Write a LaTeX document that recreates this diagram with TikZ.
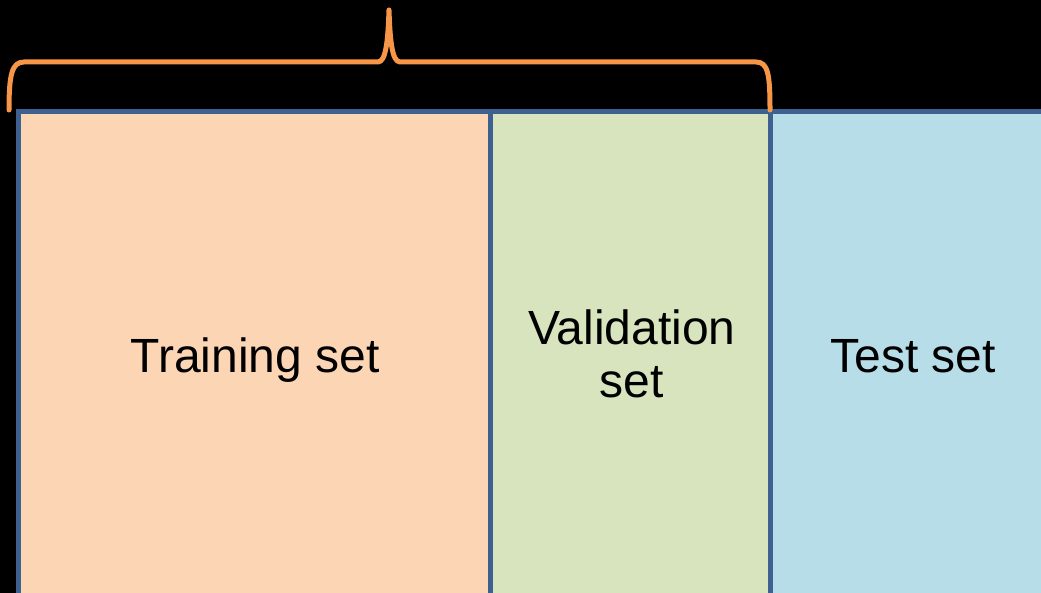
\documentclass[tikz,border=0pt]{standalone}
\usepackage{fontspec}
\setmainfont{Liberation Sans}
\definecolor{trainfill}{HTML}{FCD5B5}
\definecolor{valfill}{HTML}{D7E4BD}
\definecolor{testfill}{HTML}{B7DEE8}
\definecolor{edgeblue}{RGB}{62,96,145}
\definecolor{braceorange}{HTML}{F79646}
\begin{document}
\begin{tikzpicture}[x=1pt,y=-1pt,
  setedge/.style={draw=edgeblue,line width=5pt},
  setlabel/.style={font=\fontsize{48}{53}\selectfont,text=black,align=center},
  bracepath/.style={draw=braceorange,line width=5pt,line cap=round,line join=round}]
\fill[black] (0,0) rectangle (1041,593);
\useasboundingbox (0,0) rectangle (1041,593);
\clip (0,0) rectangle (1041,593);
\foreach \xa/\xb/\col in {18/490/trainfill,490/770/valfill,770/1056/testfill}{
  \draw[setedge,fill=\col] (\xa,112) rectangle (\xb,600);
}
\node[setlabel,anchor=base] (train) at (255,373) {Training set};
\node[setlabel] (val) at (632,354) {Validation\\set};
\node[setlabel,anchor=base] (test) at (913,373) {Test set};
% brace over training + validation
\draw[bracepath] (9,110) .. controls (9,74) and (12,62) .. (24,62) -- (378,62)
  .. controls (386,62) and (388,40) .. (389,10)
  .. controls (390,40) and (392,62) .. (400,62) -- (756,62)
  .. controls (768,62) and (770,74) .. (770,110);
\end{tikzpicture}
\end{document}
